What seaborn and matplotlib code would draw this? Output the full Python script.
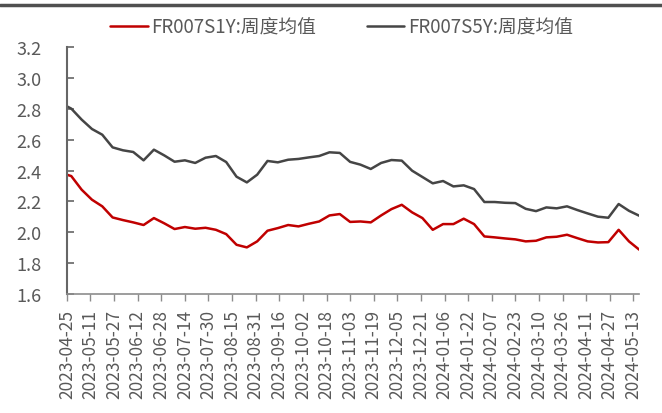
import pandas as pd
import matplotlib.pyplot as plt
import matplotlib.dates as mdates
from matplotlib.lines import Line2D
from matplotlib.ticker import FormatStrFormatter
import seaborn as sns

# --- data (weekly averages) ---
dates = ['2023-04-25'] + [d.strftime('%Y-%m-%d') for d in pd.date_range('2023-04-28', '2024-05-17', freq='7D')]

fr007_1y = [2.373, 2.364, 2.276, 2.211, 2.168, 2.096, 2.079, 2.064, 2.047, 2.092,
            2.058, 2.021, 2.034, 2.023, 2.029, 2.016, 1.988, 1.919, 1.902, 1.941,
            2.010, 2.027, 2.047, 2.038, 2.055, 2.070, 2.109, 2.118, 2.067, 2.070,
            2.064, 2.109, 2.150, 2.178, 2.129, 2.092, 2.016, 2.053, 2.053, 2.088,
            2.053, 1.973, 1.967, 1.960, 1.954, 1.941, 1.945, 1.967, 1.971, 1.984,
            1.962, 1.941, 1.934, 1.936, 2.016, 1.941, 1.887]

fr007_5y = [2.816, 2.801, 2.730, 2.669, 2.632, 2.550, 2.531, 2.520, 2.466, 2.535,
            2.498, 2.457, 2.466, 2.449, 2.483, 2.494, 2.455, 2.360, 2.323, 2.373,
            2.462, 2.453, 2.470, 2.475, 2.485, 2.494, 2.518, 2.514, 2.456, 2.438,
            2.410, 2.449, 2.468, 2.464, 2.399, 2.358, 2.317, 2.332, 2.297, 2.304,
            2.280, 2.196, 2.196, 2.191, 2.189, 2.152, 2.137, 2.161, 2.155, 2.168,
            2.144, 2.122, 2.101, 2.094, 2.183, 2.139, 2.107]

labels = ['FR007S1Y:周度均值', 'FR007S5Y:周度均值']
colors = ['#C00000', '#454545']

df = pd.DataFrame({'date': pd.to_datetime(dates), labels[0]: fr007_1y, labels[1]: fr007_5y})
long_df = df.melt(id_vars='date', var_name='series', value_name='value')

sns.set_style('white')
plt.rcParams['font.family'] = ['Noto Sans CJK SC', 'DejaVu Sans']
text_color = '#595959'

fig = plt.figure(figsize=(6.62, 4.14), dpi=100)
ax = fig.add_axes([0.101, 0.2874, 0.8647, 0.5966])

sns.lineplot(ax=ax, data=long_df, x='date', y='value', hue='series',
             palette=colors, linewidth=1.8)

# axes ranges / ticks
ax.set_ylim(1.6, 3.2)
ax.set_yticks([1.6 + 0.2 * i for i in range(9)])
ax.yaxis.set_major_formatter(FormatStrFormatter('%.1f'))
ax.set_xlim(df['date'].iloc[0], df['date'].iloc[-1])
ax.set_xticks(pd.date_range('2023-04-25', '2024-05-17', freq='16D'))
ax.xaxis.set_major_formatter(mdates.DateFormatter('%Y-%m-%d'))
ax.set_xlabel('')
ax.set_ylabel('')

ax.tick_params(axis='y', direction='in', length=5, width=1.2, color='#666666',
               labelsize=13, labelcolor=text_color, pad=18, left=True)
ax.tick_params(axis='x', direction='out', length=5, width=1.0, color='#8c8c8c',
               labelsize=12.5, labelcolor=text_color, pad=6, bottom=True,
               labelrotation=90)

for side in ['top', 'right']:
    ax.spines[side].set_visible(False)
ax.spines['left'].set_color('#666666')
ax.spines['left'].set_linewidth(1.5)
ax.spines['bottom'].set_color('#8c8c8c')
ax.spines['bottom'].set_linewidth(1.2)
ax.grid(False)

# legend on top
handles, _ = ax.get_legend_handles_labels()
ax.legend(handles, labels, loc='center', bbox_to_anchor=(0.48, 1.081), ncol=2,
          frameon=False, fontsize=13.5, labelcolor=text_color,
          handlelength=2.0, handletextpad=0.2, columnspacing=2.7)

# dark bar across the top of the picture
fig.add_artist(Line2D([0, 1], [0.9867, 0.9867], transform=fig.transFigure,
                      color='#505050', linewidth=2.5))

plt.savefig('out.png', dpi=100)
plt.close(fig)
